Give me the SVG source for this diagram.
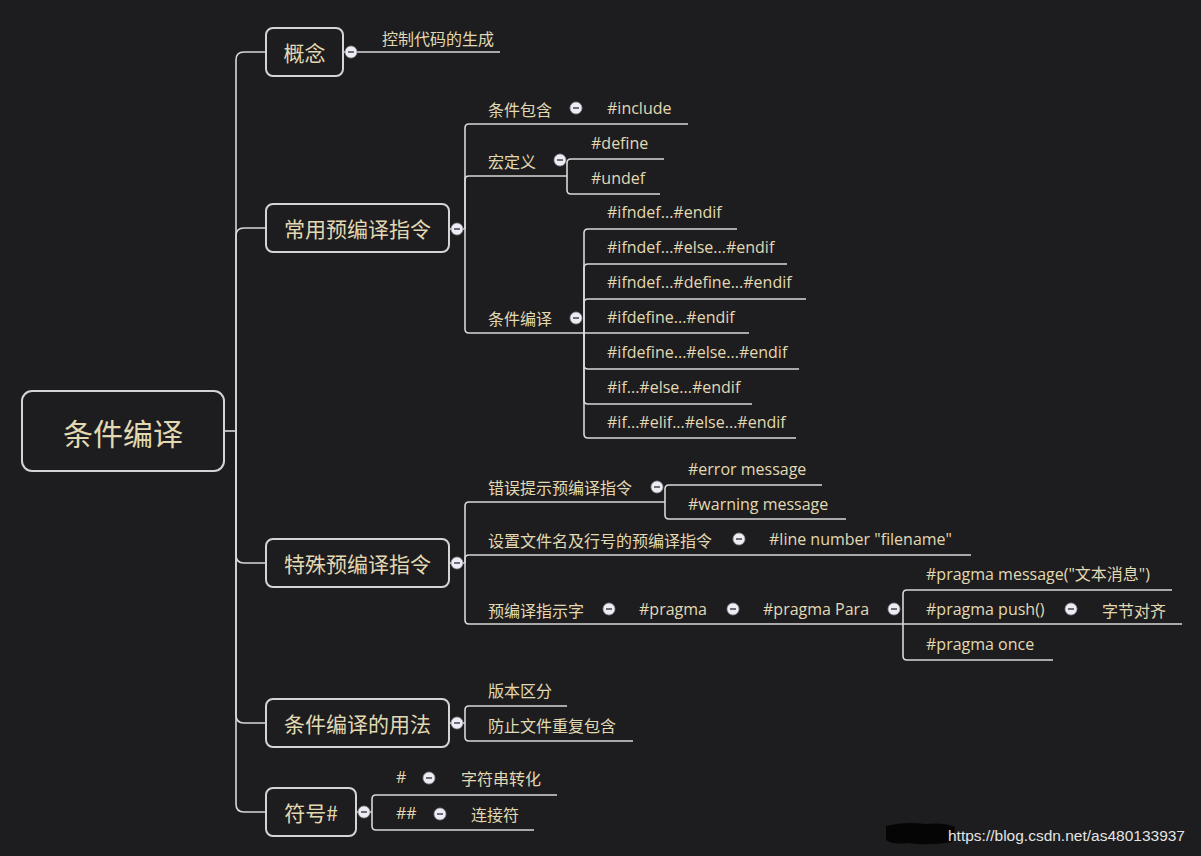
<svg xmlns="http://www.w3.org/2000/svg" width="1201" height="856" viewBox="0 0 1201 856">
<defs>
<style>
.bg{fill:#1d1d1f}
.box{fill:#1d1d1f;stroke:#d4d4d4;stroke-width:2}
.ln{fill:none;stroke:#d8d8d8;stroke-width:1.6}
.t{fill:#e2d9b3;font-family:"Noto Sans CJK SC","Noto Sans",sans-serif;dominant-baseline:central}
.l{fill:#e2d9b3;font-family:"Open Sans","Noto Sans CJK SC",sans-serif;font-size:16px;dominant-baseline:central}
.c{font-size:16px}
</style>
<g id="col"><circle r="6" fill="#ececf2" stroke="#8e8e9c" stroke-width="0.8"/><path d="M-3,0H3" stroke="#5e5e6c" stroke-width="1.8"/></g>
</defs>
<rect class="bg" x="0" y="0" width="1201" height="856"/>

<g id="connectors">
<path class="ln" d="M224,431H236"/>
<path class="ln" d="M236,431V60Q236,52 244,52H266"/>
<path class="ln" d="M236,431V236Q236,228 244,228H266"/>
<path class="ln" d="M236,431V555Q236,563 244,563H266"/>
<path class="ln" d="M236,431V715Q236,723 244,723H266"/>
<path class="ln" d="M236,431V804Q236,812 244,812H266"/>

<path class="ln" d="M343,52H500"/>

<path class="ln" d="M449,229H465"/>
<path class="ln" d="M465,229V128Q465,124 469,124H688"/>
<path class="ln" d="M465,229V180Q465,176 469,176H567"/>
<path class="ln" d="M465,229V329Q465,333 469,333H584"/>

<path class="ln" d="M567,176V163Q567,159 571,159H664"/>
<path class="ln" d="M567,176V190Q567,194 571,194H660"/>

<path class="ln" d="M584,333V233Q584,229 588,229H737"/>
<path class="ln" d="M584,333V268Q584,264 588,264H787"/>
<path class="ln" d="M584,333V303Q584,299 588,299H806"/>
<path class="ln" d="M584,333H749"/>
<path class="ln" d="M584,333V365Q584,369 588,369H799"/>
<path class="ln" d="M584,333V400Q584,404 588,404H752"/>
<path class="ln" d="M584,333V434Q584,438 588,438H796"/>

<path class="ln" d="M449,563H465"/>
<path class="ln" d="M465,563V506Q465,502 469,502H665"/>
<path class="ln" d="M465,563V559Q465,555 469,555H971"/>
<path class="ln" d="M465,563V620Q465,624 469,624H903"/>

<path class="ln" d="M665,502V489Q665,485 669,485H822"/>
<path class="ln" d="M665,502V515Q665,519 669,519H846"/>

<path class="ln" d="M903,624V594Q903,590 907,590H1172"/>
<path class="ln" d="M903,624H1182"/>
<path class="ln" d="M903,624V656Q903,660 907,660H1053"/>

<path class="ln" d="M449,723H465"/>
<path class="ln" d="M465,723V710Q465,706 469,706H567"/>
<path class="ln" d="M465,723V737Q465,741 469,741H633"/>

<path class="ln" d="M356,812H372"/>
<path class="ln" d="M372,812V799Q372,795 376,795H557"/>
<path class="ln" d="M372,812V826Q372,830 376,830H534"/>
</g>

<g id="root">
<rect class="box" x="22" y="391" width="202" height="80" rx="10"/>
<text class="t" x="123" y="432" font-size="30" text-anchor="middle">条件编译</text>
</g>

<g id="n-gainian">
<rect class="box" x="266" y="28" width="77" height="48" rx="7"/>
<text class="t" x="304.5" y="52" font-size="21" text-anchor="middle">概念</text>
</g>
<g id="n-changyong">
<rect class="box" x="266" y="204" width="183" height="48" rx="7"/>
<text class="t" x="357.5" y="228" font-size="21" text-anchor="middle">常用预编译指令</text>
</g>
<g id="n-teshu">
<rect class="box" x="266" y="539" width="183" height="48" rx="7"/>
<text class="t" x="357.5" y="563" font-size="21" text-anchor="middle">特殊预编译指令</text>
</g>
<g id="n-yongfa">
<rect class="box" x="266" y="699" width="183" height="48" rx="7"/>
<text class="t" x="357.5" y="723" font-size="21" text-anchor="middle">条件编译的用法</text>
</g>
<g id="n-fuhao">
<rect class="box" x="266" y="788" width="90" height="48" rx="7"/>
<text class="t" x="311" y="812" font-size="21" text-anchor="middle">符号#</text>
</g>

<g id="n-kongzhi"><text class="t c" x="382" y="38">控制代码的生成</text></g>

<g id="n-baohan"><text class="t c" x="488" y="109">条件包含</text></g>
<g id="n-include"><text class="l" x="607" y="108">#include</text></g>
<g id="n-hong"><text class="t c" x="488" y="161">宏定义</text></g>
<g id="n-define"><text class="l" x="591" y="143">#define</text></g>
<g id="n-undef"><text class="l" x="591" y="178">#undef</text></g>
<g id="n-tjby"><text class="t c" x="488" y="318">条件编译</text></g>
<g id="n-if1"><text class="l" x="607" y="212">#ifndef...#endif</text></g>
<g id="n-if2"><text class="l" x="607" y="247">#ifndef...#else...#endif</text></g>
<g id="n-if3"><text class="l" x="607" y="282">#ifndef...#define...#endif</text></g>
<g id="n-if4"><text class="l" x="607" y="317">#ifdefine...#endif</text></g>
<g id="n-if5"><text class="l" x="607" y="352">#ifdefine...#else...#endif</text></g>
<g id="n-if6"><text class="l" x="607" y="387">#if...#else...#endif</text></g>
<g id="n-if7"><text class="l" x="607" y="422">#if...#elif...#else...#endif</text></g>

<g id="n-cuowu"><text class="t c" x="488" y="487">错误提示预编译指令</text></g>
<g id="n-error"><text class="l" x="688" y="469">#error message</text></g>
<g id="n-warning"><text class="l" x="688" y="504">#warning message</text></g>
<g id="n-shezhi"><text class="t c" x="488" y="540">设置文件名及行号的预编译指令</text></g>
<g id="n-line"><text class="l" x="769" y="539">#line number "filename"</text></g>
<g id="n-zhishi"><text class="t c" x="488" y="610">预编译指示字</text></g>
<g id="n-pragma"><text class="l" x="639" y="609">#pragma</text></g>
<g id="n-para"><text class="l" x="763" y="609">#pragma Para</text></g>
<g id="n-msg"><text class="l" x="926" y="574">#pragma message("文本消息")</text></g>
<g id="n-push"><text class="l" x="926" y="609">#pragma push()</text></g>
<g id="n-duiqi"><text class="t c" x="1102" y="610">字节对齐</text></g>
<g id="n-once"><text class="l" x="926" y="644">#pragma once</text></g>

<g id="n-banben"><text class="t c" x="488" y="690">版本区分</text></g>
<g id="n-fangzhi"><text class="t c" x="488" y="725">防止文件重复包含</text></g>

<g id="n-hash"><text class="l" x="396" y="777">#</text></g>
<g id="n-zfc"><text class="t c" x="461" y="778">字符串转化</text></g>
<g id="n-hash2"><text class="l" x="396" y="813">##</text></g>
<g id="n-ljf"><text class="t c" x="471" y="814">连接符</text></g>

<g id="collapse">
<use href="#col" x="351" y="52"/>
<use href="#col" x="457" y="229"/>
<use href="#col" x="457" y="563"/>
<use href="#col" x="457" y="723"/>
<use href="#col" x="364" y="812"/>
<use href="#col" x="576" y="108"/>
<use href="#col" x="560" y="160"/>
<use href="#col" x="576" y="318"/>
<use href="#col" x="657" y="487"/>
<use href="#col" x="739" y="539"/>
<use href="#col" x="609" y="609"/>
<use href="#col" x="733" y="609"/>
<use href="#col" x="894" y="609"/>
<use href="#col" x="1071" y="609"/>
<use href="#col" x="429" y="778"/>
<use href="#col" x="440" y="814"/>
</g>

<g id="watermark">
<path d="M886,826Q905,821 925,824Q945,822 955,827L952,842Q930,846 908,843Q892,845 886,840Z" fill="#050505"/>
<text x="948" y="841" font-family="Liberation Sans,Arial,sans-serif" font-size="15.5" fill="#e4e4e4">https://blog.csdn.net/as480133937</text>
</g>
</svg>
